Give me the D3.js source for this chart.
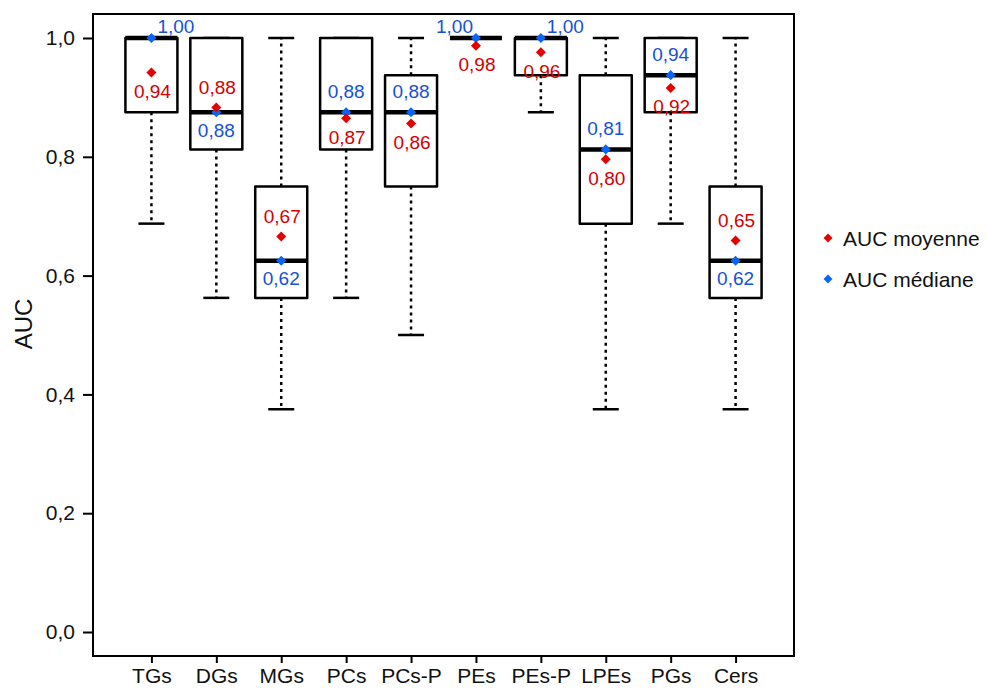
<!DOCTYPE html>
<html>
<head>
<meta charset="utf-8">
<script src="https://cdn.jsdelivr.net/npm/d3@7"></script>
<style>
  body { margin: 0; background: #fff; }
  svg text { font-family: "Liberation Sans", Arial, sans-serif; }
</style>
</head>
<body>
<div id="chart"></div>
<script>
// categories and box statistics (lower whisker, Q1, median, Q3, upper whisker)
const categories = ['TGs', 'DGs', 'MGs', 'PCs', 'PCs-P', 'PEs', 'PEs-P', 'LPEs', 'PGs', 'Cers'];
const whiskerLow = [0.6875, 0.5625, 0.375, 0.5625, 0.5, 1.0, 0.875, 0.375, 0.6875, 0.375];
const q1 = [0.875, 0.8125, 0.5625, 0.8125, 0.75, 1.0, 0.9375, 0.6875, 0.875, 0.5625];
const medians = [1.0, 0.875, 0.625, 0.875, 0.875, 1.0, 1.0, 0.8125, 0.9375, 0.625];
const q3 = [1.0, 1.0, 0.75, 1.0, 0.9375, 1.0, 1.0, 0.9375, 1.0, 0.75];
const whiskerHigh = [1.0, 1.0, 1.0, 1.0, 1.0, 1.0, 1.0, 1.0, 1.0, 1.0];
const means = [0.942, 0.883, 0.666, 0.865, 0.856, 0.987, 0.976, 0.796, 0.916, 0.659];
const meanLabels = ['0,94', '0,88', '0,67', '0,87', '0,86', '0,98', '0,96', '0,80', '0,92', '0,65'];
const medianLabels = ['1,00', '0,88', '0,62', '0,88', '0,88', '1,00', '1,00', '0,81', '0,94', '0,62'];
const yTicks = [0, 0.2, 0.4, 0.6, 0.8, 1.0];
const legendItems = ['AUC moyenne', 'AUC médiane'];

const red = '#e60000';
const blue = '#0a64f5';
const redText = '#d40000';
const blueText = '#1650d8';

const width = 987, height = 689;
const frame = { left: 93, top: 14, right: 794, bottom: 656 };

const svg = d3.select('#chart').append('svg')
    .attr('width', width)
    .attr('height', height);

const x = d3.scalePoint()
    .domain(categories)
    .range([frame.left, frame.right])
    .padding(0.9);

const y = d3.scaleLinear()
    .domain([0, 1])
    .range([632, 38]);

const data = categories.map((c, i) => ({
    cat: c, lo: whiskerLow[i], q1: q1[i], med: medians[i], q3: q3[i], hi: whiskerHigh[i],
    mean: means[i], meanLabel: meanLabels[i], medLabel: medianLabels[i]
}));

// frame
svg.append('rect')
    .attr('x', frame.left).attr('y', frame.top)
    .attr('width', frame.right - frame.left).attr('height', frame.bottom - frame.top)
    .attr('fill', 'none').attr('stroke', '#000').attr('stroke-width', 2);

// y axis
const yAxis = svg.append('g')
    .attr('transform', `translate(${frame.left},0)`)
    .call(d3.axisLeft(y).tickValues(yTicks).tickSize(10).tickPadding(8)
        .tickFormat(d => d3.format('.1f')(d).replace('.', ',')));
yAxis.select('.domain').remove();
yAxis.selectAll('line').attr('stroke', '#000').attr('stroke-width', 2);
yAxis.selectAll('text').attr('font-size', 21).attr('fill', '#111');

// x axis
const xAxis = svg.append('g')
    .attr('transform', `translate(0,${frame.bottom})`)
    .call(d3.axisBottom(x).tickSize(7).tickPadding(5));
xAxis.select('.domain').remove();
xAxis.selectAll('line').attr('stroke', '#000').attr('stroke-width', 2);
xAxis.selectAll('text').attr('font-size', 21).attr('fill', '#111');

// y axis title
svg.append('text')
    .attr('transform', `translate(32,324) rotate(-90)`)
    .attr('text-anchor', 'middle')
    .attr('font-size', 24)
    .attr('fill', '#111')
    .text('AUC');

const boxW = 52, capW = 26;
const g = svg.append('g');

const box = g.selectAll('.box')
    .data(data)
    .enter().append('g')
    .attr('class', 'box')
    .attr('transform', d => `translate(${x(d.cat)},0)`);

// whiskers (dotted)
box.append('line')
    .attr('y1', d => y(d.q1)).attr('y2', d => y(d.lo))
    .attr('stroke', '#000').attr('stroke-width', 2.5)
    .attr('stroke-dasharray', '3,4');
box.append('line')
    .attr('y1', d => y(d.q3)).attr('y2', d => y(d.hi))
    .attr('stroke', '#000').attr('stroke-width', 2.5)
    .attr('stroke-dasharray', '3,4');

// caps
box.append('line')
    .attr('x1', -capW / 2).attr('x2', capW / 2)
    .attr('y1', d => y(d.lo)).attr('y2', d => y(d.lo))
    .attr('stroke', '#000').attr('stroke-width', 2.5);
box.append('line')
    .attr('x1', -capW / 2).attr('x2', capW / 2)
    .attr('y1', d => y(d.hi)).attr('y2', d => y(d.hi))
    .attr('stroke', '#000').attr('stroke-width', 2.5);

// box
box.append('rect')
    .attr('x', -boxW / 2).attr('width', boxW)
    .attr('y', d => y(d.q3))
    .attr('height', d => y(d.q1) - y(d.q3))
    .attr('fill', '#fff')
    .attr('stroke', '#000').attr('stroke-width', 2.5)
    .attr('stroke-linejoin', 'round');

// median line
box.append('line')
    .attr('x1', -boxW / 2).attr('x2', boxW / 2)
    .attr('y1', d => y(d.med)).attr('y2', d => y(d.med))
    .attr('stroke', '#000').attr('stroke-width', 4.5);

const diamond = d3.symbol().type(d3.symbolDiamond2).size(64);

// median markers then mean markers
box.append('path')
    .attr('d', diamond)
    .attr('transform', d => `translate(0,${y(d.med)})`)
    .attr('fill', blue);
box.append('path')
    .attr('d', diamond)
    .attr('transform', d => `translate(0,${y(d.mean)})`)
    .attr('fill', red);

// labels: the higher marker gets its label above, the lower one below
const topSide = { 'TGs': 1, 'PEs': -1, 'PEs-P': 1 };
box.append('text')
    .attr('font-size', 19)
    .attr('fill', blueText)
    .attr('dominant-baseline', 'central')
    .attr('text-anchor', d => d.med === 1 ? (topSide[d.cat] > 0 ? 'start' : 'end') : 'middle')
    .attr('x', d => d.med === 1 ? (topSide[d.cat] > 0 ? 6 : -3) : 0)
    .attr('y', d => {
        if (d.med === 1) return y(d.med) - 12;
        return d.med >= d.mean ? y(d.med) - 21 : y(d.med) + 18;
    })
    .text(d => d.medLabel);
box.append('text')
    .attr('font-size', 19)
    .attr('fill', redText)
    .attr('dominant-baseline', 'central')
    .attr('text-anchor', 'middle')
    .attr('x', 1)
    .attr('y', d => d.mean > d.med ? y(d.mean) - 20 : y(d.mean) + 19)
    .text(d => d.meanLabel);

// legend
const legend = svg.append('g')
    .selectAll('g')
    .data(legendItems)
    .enter().append('g')
    .attr('transform', (d, i) => `translate(828,${238 + i * 41})`);
legend.append('path')
    .attr('d', d3.symbol().type(d3.symbolDiamond2).size(50))
    .attr('fill', (d, i) => i === 0 ? red : blue);
legend.append('text')
    .attr('x', 15)
    .attr('dominant-baseline', 'central')
    .attr('font-size', 21)
    .attr('fill', '#111')
    .text(d => d);
</script>
</body>
</html>
